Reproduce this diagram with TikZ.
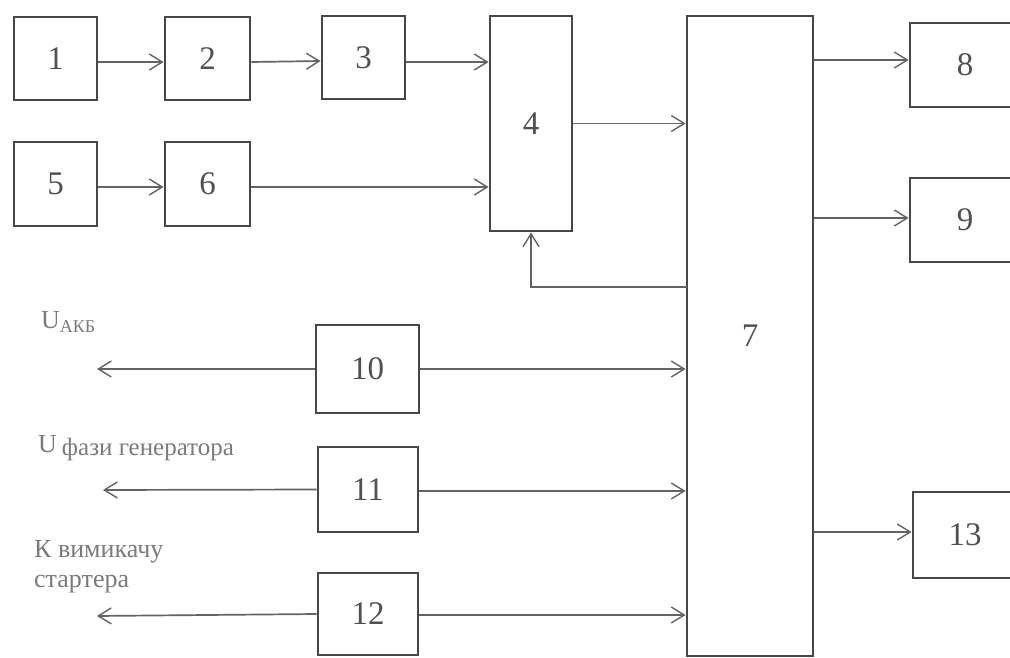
\documentclass[tikz,border=0pt]{standalone}
\usepackage{fontspec}
\setmainfont{Liberation Serif}
\usetikzlibrary{arrows.meta}
\definecolor{linec}{HTML}{474747}
\definecolor{textc}{HTML}{505050}
\definecolor{labc}{HTML}{7A7A7A}
\tikzset{
  blk/.style={draw=linec, line width=2.8pt, rectangle, inner sep=0pt, text=textc,
    font=\fontsize{33}{38}\selectfont},
  conn/.style={draw=linec!85, line width=1.7pt, -{Straight Barb[length=13pt,width=16pt,line width=1.4pt]}},
  lab/.style={text=labc, inner sep=0pt, anchor=base west, font=\fontsize{26}{32}\selectfont},
}
\begin{document}
\begin{tikzpicture}[x=1pt,y=-1pt]
\useasboundingbox (0,0) rectangle (1010,658);
\clip (0,0) rectangle (1010,658);
\node[blk, minimum width=83pt, minimum height=83pt] (b1) at (55.5,58.5) {1};
\node[blk, minimum width=85pt, minimum height=83pt] (b2) at (207.5,58.5) {2};
\node[blk, minimum width=83pt, minimum height=83pt] (b3) at (363.5,57.5) {3};
\node[blk, minimum width=83pt, minimum height=84pt] (b5) at (55.5,184) {5};
\node[blk, minimum width=85pt, minimum height=84pt] (b6) at (207.5,184) {6};
\node[blk, minimum width=82pt, minimum height=215pt] (b4) at (531,123.5) {4};
\node[blk, minimum width=126pt, minimum height=640pt] (b7) at (750,336) {7};
\node[blk, minimum width=110pt, minimum height=84pt] (b8) at (965,65) {8};
\node[blk, minimum width=110pt, minimum height=84pt] (b9) at (965,220) {9};
\node[blk, minimum width=104pt, minimum height=86pt] (b13) at (965,535) {13};
\node[blk, minimum width=103pt, minimum height=88pt] (b10) at (367.5,369) {10};
\node[blk, minimum width=100pt, minimum height=85pt] (b11) at (368,489.5) {11};
\node[blk, minimum width=100pt, minimum height=82pt] (b12) at (368,614) {12};

\draw[conn] ([yshift=-3.5pt]b1.east) -- ([yshift=-3.5pt]b2.west);
\draw[conn] ([yshift=-3.5pt]b2.east) -- ([yshift=-3.5pt]b3.west);
\draw[conn] ([yshift=-4.5pt]b3.east) -- ([yshift=-4.5pt]b3.east -| b4.west);
\draw[conn] ([yshift=-3pt]b5.east) -- ([yshift=-3pt]b6.west);
\draw[conn] ([yshift=-3pt]b6.east) -- ([yshift=-3pt]b6.east -| b4.west);
\draw[conn] (b4.east) -- (b4.east -| b7.west);
\draw[conn] ([yshift=5pt]b8.west -| b7.east) -- ([yshift=5pt]b8.west);
\draw[conn] ([yshift=2pt]b9.west -| b7.east) -- ([yshift=2pt]b9.west);
\draw[conn] ([yshift=3pt]b13.west -| b7.east) -- ([yshift=3pt]b13.west);
\coordinate (fb) at (687,287);
\draw[conn] (fb) -| (b4.south);
\draw[conn] (b10.east) -- (b10.east -| b7.west);
\draw[conn] ([yshift=-1.5pt]b11.east) -- ([yshift=-1.5pt]b11.east -| b7.west);
\draw[conn] ([yshift=-1pt]b12.east) -- ([yshift=-1pt]b12.east -| b7.west);
\coordinate (o10) at (97,369);
\coordinate (o11) at (103,490);
\coordinate (o12) at (97,616);
\draw[conn] (b10.west) -- (o10);
\draw[conn] (b11.west) -- (o11);
\draw[conn] (b12.west) -- (o12);

\node[lab] (l10) at (41,328) {U\raisebox{-4pt}{\fontsize{18}{20}\selectfont АКБ}};
\node[lab] (l11) at (38,452) {U\hspace{5pt}\raisebox{-3pt}{\fontsize{25}{30}\selectfont фази генератора}};
\node[lab, align=left] (l12) at (34,587) {К вимикачу\\[-2pt]стартера};
\end{tikzpicture}
\end{document}
